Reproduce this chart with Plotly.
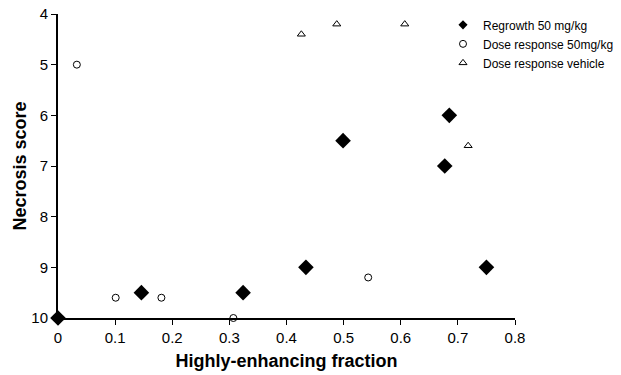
import plotly.graph_objects as go

# Data
regrowth_x = [0.0, 0.146, 0.324, 0.434, 0.499, 0.677, 0.685, 0.750]
regrowth_y = [10.0, 9.5, 9.5, 9.0, 6.5, 7.0, 6.0, 9.0]

dose50_x = [0.033, 0.101, 0.181, 0.307, 0.543]
dose50_y = [5.0, 9.6, 9.6, 10.0, 9.2]

vehicle_x = [0.426, 0.488, 0.607, 0.718]
vehicle_y = [4.4, 4.2, 4.2, 6.6]

series_names = ["Regrowth 50 mg/kg", "Dose response 50mg/kg", "Dose response vehicle"]

x_ticks = [0, 0.1, 0.2, 0.3, 0.4, 0.5, 0.6, 0.7, 0.8]
x_tick_labels = ["0", "0.1", "0.2", "0.3", "0.4", "0.5", "0.6", "0.7", "0.8"]
y_ticks = [4, 5, 6, 7, 8, 9, 10]
y_tick_labels = ["4", "5", "6", "7", "8", "9", "10"]

FONT = "Liberation Sans, Arial, sans-serif"

W, H = 621, 375
ML, MR, MT, MB = 58, 0, 14, 57
PLOT_RIGHT = 515  # pixel where x = 0.8 ends
x_domain_end = (PLOT_RIGHT - ML) / (W - ML - MR)

styles = [
    dict(symbol="diamond", size=12, color="black", line=dict(width=0)),
    dict(symbol="circle-open", size=7, color="black", line=dict(width=1, color="black")),
    dict(symbol="triangle-up-open", size=7, color="black", line=dict(width=1, color="black")),
]
legend_styles = [
    dict(symbol="diamond", size=7, color="black", line=dict(width=0)),
    dict(symbol="circle-open", size=7, color="black", line=dict(width=1, color="black")),
    dict(symbol="triangle-up-open", size=7, color="black", line=dict(width=1, color="black")),
]

fig = go.Figure()
for xs, ys, name, st in zip([regrowth_x, dose50_x, vehicle_x],
                            [regrowth_y, dose50_y, vehicle_y],
                            series_names, styles):
    fig.add_trace(go.Scatter(x=xs, y=ys, mode="markers", name=name, marker=st,
                             cliponaxis=False, showlegend=False))
# legend entries (smaller symbols, as in the reference legend)
for name, st in zip(series_names, legend_styles):
    fig.add_trace(go.Scatter(x=[None], y=[None], mode="markers", name=name, marker=st,
                             showlegend=True))

fig.update_layout(
    width=W, height=H,
    margin=dict(l=ML, r=MR, t=MT, b=MB, autoexpand=False),
    plot_bgcolor="white", paper_bgcolor="white",
    font=dict(family=FONT, size=15, color="black"),
    showlegend=True,
    legend=dict(
        x=(443 - ML) / (W - ML - MR), y=1.012, xanchor="left", yanchor="top",
        font=dict(family=FONT, size=12, color="black"),
        bgcolor="rgba(0,0,0,0)", itemsizing="trace",
    ),
    xaxis=dict(
        domain=[0, x_domain_end],
        range=[0, 0.8], tickvals=x_ticks, ticktext=x_tick_labels,
        showgrid=False, zeroline=False, showline=True, linecolor="black", linewidth=2,
        ticks="outside", ticklen=5, tickwidth=1, tickcolor="black",
        tickfont=dict(size=15), automargin=False,
        title=dict(text="<b>Highly-enhancing fraction</b>", font=dict(size=18), standoff=9),
    ),
    yaxis=dict(
        range=[10, 4], tickvals=y_ticks, ticktext=y_tick_labels,
        showgrid=False, zeroline=False, showline=True, linecolor="black", linewidth=2,
        ticks="outside", ticklen=5, tickwidth=1, tickcolor="black",
        tickfont=dict(size=15), automargin=False,
        title=dict(text="<b>Necrosis score</b>", font=dict(size=18), standoff=0),
    ),
)

fig.write_html("out.html",
               config={"displayModeBar": False},
               post_script="document.body.style.margin='0';document.body.style.padding='0';")
